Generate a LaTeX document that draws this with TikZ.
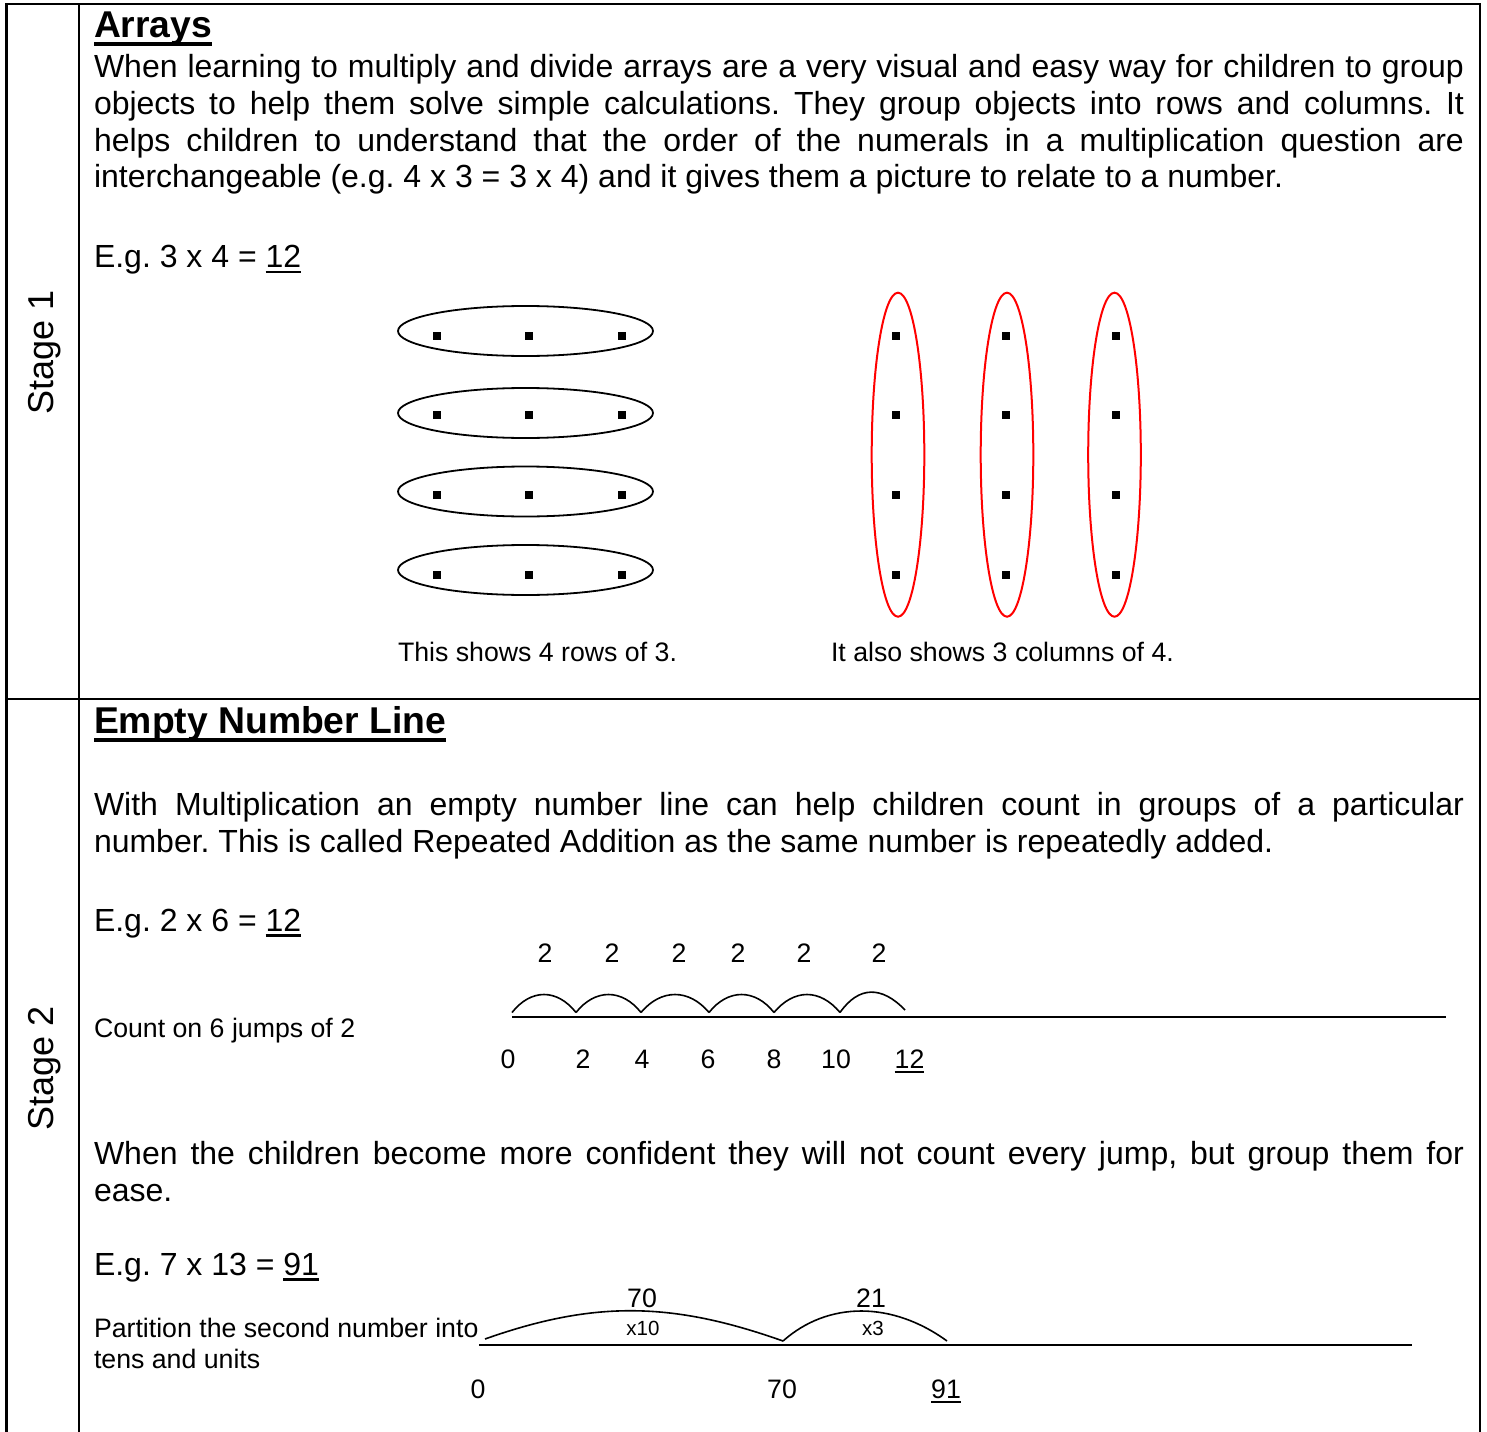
\documentclass[tikz,border=0pt]{standalone}
\usepackage{fontspec}
\setmainfont{Liberation Sans}
\frenchspacing

% type sizes (1pt = one unit of the drawing)
\newcommand\fBody{\fontsize{32}{37}\selectfont}
\newcommand\fHead{\bfseries\fontsize{37.3}{43}\selectfont}
\newcommand\fSmall{\fontsize{26.7}{31}\selectfont}
\newcommand\fTiny{\fontsize{20.5}{24}\selectfont}
\newcommand\fStage{\fontsize{36}{41}\selectfont}

% underlined words
\newsavebox\ulbox
\newcommand\ulin[1]{\sbox\ulbox{#1}\rlap{\rule[-0.175em]{\wd\ulbox}{0.08em}}\usebox\ulbox}
\newcommand\ulhead[1]{\sbox\ulbox{#1}\rlap{\rule[-0.215em]{\wd\ulbox}{0.095em}}\usebox\ulbox}
\newcommand\just[1]{\makebox[1370pt][s]{#1}}

\tikzset{
  grid line/.style={line width=2.3pt, line cap=rect},
  txt/.style={anchor=base west, inner sep=0pt, outer sep=0pt, font=\fBody},
  head/.style={anchor=base west, inner sep=0pt, outer sep=0pt, font=\fHead},
  note/.style={anchor=base west, inner sep=0pt, outer sep=0pt, font=\fSmall},
  num/.style={anchor=base, inner sep=0pt, outer sep=0pt, font=\fSmall},
  tiny/.style={anchor=base, inner sep=0pt, outer sep=0pt, font=\fTiny},
  stage/.style={anchor=base, rotate=90, inner sep=0pt, font=\fStage},
  rowring/.style={draw=black, line width=1.8pt},
  colring/.style={draw=red, line width=2pt},
  jump/.style={line width=1.6pt},
  numline/.style={line width=1.8pt},
}

\begin{document}
\begin{tikzpicture}[x=1pt, y=-1pt]
\useasboundingbox (0,0) rectangle (1487,1431);
\fill[white] (0,0) rectangle (1487,1431);

% ---- table frame ----
\draw[grid line] (6.5,1431) -- (6.5,4) -- (1480,4) -- (1480,1431);
\draw[grid line] (79,4) -- (79,1431);
\draw[grid line] (6.5,699) -- (1480,699);

\node[stage] (s1) at (53,352) {Stage 1};
\node[stage] (s2) at (53,1068) {Stage 2};

% ---- Stage 1: arrays ----
\node[head] (h1) at (94,37.7) {\ulhead{Arrays}};
\node[txt] (p1a) at (94,77.5)  {\just{When learning to multiply and divide arrays are a very visual and easy way for children to group}};
\node[txt] (p1b) at (94,114.3) {\just{objects to help them solve simple calculations. They group objects into rows and columns. It}};
\node[txt] (p1c) at (94,151.1) {\just{helps children to understand that the order of the numerals in a multiplication question are}};
\node[txt] (p1d) at (94,187.9) {interchangeable (e.g. 4 x 3 = 3 x 4) and it gives them a picture to relate to a number.};
\node[txt] (eg1) at (94,267.5) {E.g. 3 x 4 = \ulin{12}};

% four rows of three
\foreach \cy/\dy in {331/336, 413/415, 491.5/494.5, 570/575}{
  \draw[rowring] (525.5,\cy) ellipse [x radius=127.5pt, y radius=25pt];
  \foreach \dx in {437,529,622}
    \fill (\dx-4,\dy-4) rectangle (\dx+4,\dy+4);
}
% three columns of four
\foreach \cx/\dx in {898/896, 1007/1006, 1114.5/1116}{
  \draw[colring] (\cx,454.7) ellipse [x radius=26.3pt, y radius=162pt];
  \foreach \dy in {336,415,494.5,575}
    \fill (\dx-4,\dy-4) rectangle (\dx+4,\dy+4);
}
\node[note] (c1) at (398,661.5) {This shows 4 rows of 3.};
\node[note] (c2) at (831,661.5) {It also shows 3 columns of 4.};

% ---- Stage 2: empty number line ----
\node[head] (h2) at (94,733.5) {\ulhead{Empty Number Line}};
\node[txt] (p2a) at (94,815.5) {\just{With Multiplication an empty number line can help children count in groups of a particular}};
\node[txt] (p2b) at (94,852)   {number. This is called Repeated Addition as the same number is repeatedly added.};
\node[txt] (eg2) at (94,931)   {E.g. 2 x 6 = \ulin{12}};
\node[note] (cnt) at (94,1037) {Count on 6 jumps of 2};

% jumps of two
\coordinate (l1s) at (512,1017);
\coordinate (l1e) at (1446,1017);
\draw[numline] (l1s) -- (l1e);
\coordinate (j0) at (512,1012.5);
\coordinate (j1) at (576,1012.5);
\coordinate (j2) at (641,1012.5);
\coordinate (j3) at (709,1012.5);
\coordinate (j4) at (774,1012.5);
\coordinate (j5) at (840,1012.5);
\coordinate (j6) at (905,1010);
\draw[jump] (j0) .. controls +(19,-24) and +(-19,-24) .. (j1)
            (j1) .. controls +(19,-24) and +(-19,-24) .. (j2)
            (j2) .. controls +(20,-24) and +(-20,-24) .. (j3)
            (j3) .. controls +(19,-24) and +(-19,-24) .. (j4)
            (j4) .. controls +(20,-24) and +(-20,-24) .. (j5)
            (j5) .. controls +(19,-27) and +(-23,-24) .. (j6);
\foreach \x [count=\i] in {545,612,679,738,804,879}
  \node[num] (t\i) at (\x,962) {2};
\node[num] (n0)  at (508,1068) {0};
\node[num] (n2)  at (583,1068) {2};
\node[num] (n4)  at (642,1068) {4};
\node[num] (n6)  at (708,1068) {6};
\node[num] (n8)  at (774,1068) {8};
\node[num] (n10) at (836,1068) {10};
\node[num] (n12) at (909.5,1068) {\ulin{12}};

\node[txt] (p3a) at (94,1164) {\just{When the children become more confident they will not count every jump, but group them for}};
\node[txt] (p3b) at (94,1201) {ease.};
\node[txt] (eg3) at (94,1275) {E.g. 7 x 13 = \ulin{91}};
\node[note] (pt1) at (94,1337) {Partition the second number into};
\node[note] (pt2) at (94,1368) {tens and units};

% partitioned jumps
\coordinate (l2s) at (479,1345);
\coordinate (l2e) at (1412,1345);
\draw[numline] (l2s) -- (l2e);
\coordinate (k0) at (485,1339);
\coordinate (k1) at (783,1341);
\coordinate (k2) at (947,1341);
\draw[jump] (k0) .. controls +(110,-39) and +(-110,-39) .. (k1)
            (k1) .. controls +(45,-40) and +(-55,-40) .. (k2);
\node[num]  (b70) at (642,1307) {70};
\node[num]  (b21) at (871,1307) {21};
\node[tiny] (m10) at (643,1335) {x10};
\node[tiny] (m3)  at (873,1335) {x3};
\node[num] (q0)  at (478,1398) {0};
\node[num] (q70) at (782,1398) {70};
\node[num] (q91) at (946,1398) {\ulin{91}};
\end{tikzpicture}
\end{document}
